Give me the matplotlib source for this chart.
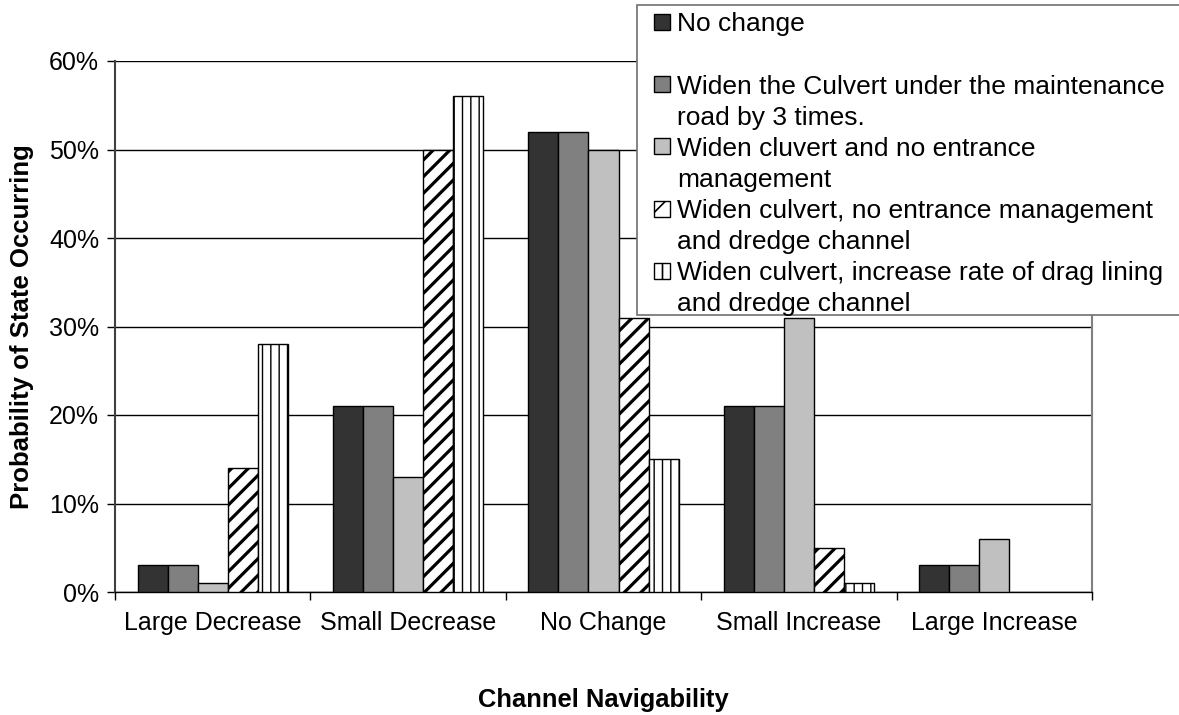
import numpy as np
import matplotlib
matplotlib.use("Agg")
import matplotlib.pyplot as plt
from matplotlib.patches import Rectangle
from matplotlib.ticker import FixedLocator, PercentFormatter

categories = ["Large Decrease", "Small Decrease", "No Change", "Small Increase", "Large Increase"]
series_names = [
    "No change",
    "Widen the Culvert under the maintenance\nroad by 3 times.",
    "Widen cluvert and no entrance\nmanagement",
    "Widen culvert, no entrance management\nand dredge channel",
    "Widen culvert, increase rate of drag lining\nand dredge channel",
]
no_change = [3, 21, 52, 21, 3]
widen_culvert = [3, 21, 52, 21, 3]
widen_no_entrance = [1, 13, 50, 31, 6]
widen_no_entrance_dredge = [14, 50, 31, 5, 0]
widen_drag_dredge = [28, 56, 15, 1, 0]
series_values = [no_change, widen_culvert, widen_no_entrance, widen_no_entrance_dredge, widen_drag_dredge]
y_ticks = [0, 10, 20, 30, 40, 50, 60]

faces = ["#333333", "#808080", "#c0c0c0", "white", "white"]
hatches = [None, None, None, "//", "||"]
hatch_lws = [1.0, 1.0, 1.0, 2.3, 1.0]

plt.rcParams["font.family"] = ["Liberation Sans", "DejaVu Sans"]

W, H = 1179, 715
fig = plt.figure(figsize=(W / 100, H / 100), dpi=100)
L, R, B, T = 115, 1092, 592, 61
ax = fig.add_axes([L / W, 1 - B / H, (R - L) / W, (B - T) / H])

n = len(series_values)
w = 1 / 6.5
x = np.arange(len(categories))
for i, vals in enumerate(series_values):
    with plt.rc_context({"hatch.linewidth": hatch_lws[i], "hatch.color": "black"}):
        bars = ax.bar(x + (i - (n - 1) / 2) * w, vals, width=w, color=faces[i],
                      edgecolor="black", linewidth=1.0, hatch=hatches[i], zorder=3)
    for b, v in zip(bars, vals):
        if hasattr(b, "set_hatch_linewidth"):
            b.set_hatch_linewidth(hatch_lws[i])
        if v == 0:
            b.set_linewidth(0)

ax.set_xlim(-0.5, len(categories) - 0.5)
ax.set_ylim(0, 60)
ax.yaxis.set_major_locator(FixedLocator(y_ticks))
ax.yaxis.set_major_formatter(PercentFormatter(decimals=0))
ax.grid(axis="y", color="black", linewidth=1.0, zorder=0)
ax.set_axisbelow(True)

ax.set_xticks(np.arange(len(categories) + 1) - 0.5)
ax.set_xticklabels([])
ax.set_xticks(x, minor=True)
ax.set_xticklabels(categories, minor=True, fontsize=18)
ax.tick_params(axis="x", which="major", direction="out", length=6, width=1.0, color="black")
ax.tick_params(axis="x", which="minor", length=0, pad=14)
ax.tick_params(axis="y", direction="out", length=5.5, width=1.0, color="black", labelsize=18, pad=6)

ax.spines["top"].set_visible(False)
ax.spines["left"].set_color("#404040")
ax.spines["left"].set_linewidth(1.5)
ax.spines["right"].set_color("#808080")
ax.spines["right"].set_linewidth(1.5)
ax.spines["bottom"].set_color("black")
ax.spines["bottom"].set_linewidth(1.0)

fig.text(22 / W, 1 - 327 / H, "Probability of State Occurring", rotation=90,
         fontsize=18.5, fontweight="bold", ha="center", va="center")
fig.text(603 / W, 1 - 700 / H, "Channel Navigability",
         fontsize=18.4, fontweight="bold", ha="center", va="center")

# legend (drawn manually, extends beyond the right edge like the reference)
def fx(px):
    return px / W

def fy(py):
    return 1 - py / H

box = Rectangle((fx(637), fy(315)), fx(1200) - fx(637), fy(5) - fy(315),
                transform=fig.transFigure, facecolor="white", edgecolor="#707070",
                linewidth=1.2, zorder=10, clip_on=False)
fig.add_artist(box)

line_h = 31.1
y0 = 22
line_idx = 0
for i, name in enumerate(series_names):
    lines = name.split("\n")
    if i == 0:
        lines = lines + [""]
    yc = y0 + line_idx * line_h
    mh = "/" if i == 3 else hatches[i]
    with plt.rc_context({"hatch.linewidth": 1.2, "hatch.color": "black"}):
        m = Rectangle((fx(654), fy(yc + 8)), fx(670) - fx(654), fy(yc - 8) - fy(yc + 8),
                      transform=fig.transFigure, facecolor=faces[i], edgecolor="black",
                      linewidth=1.0, hatch=mh, zorder=11)
    fig.add_artist(m)
    for j, ln in enumerate(lines):
        if ln:
            fig.text(fx(677), fy(yc + j * line_h), ln, fontsize=19,
                     ha="left", va="center_baseline", zorder=12)
    line_idx += len(lines)

fig.savefig("out.png", dpi=100)
